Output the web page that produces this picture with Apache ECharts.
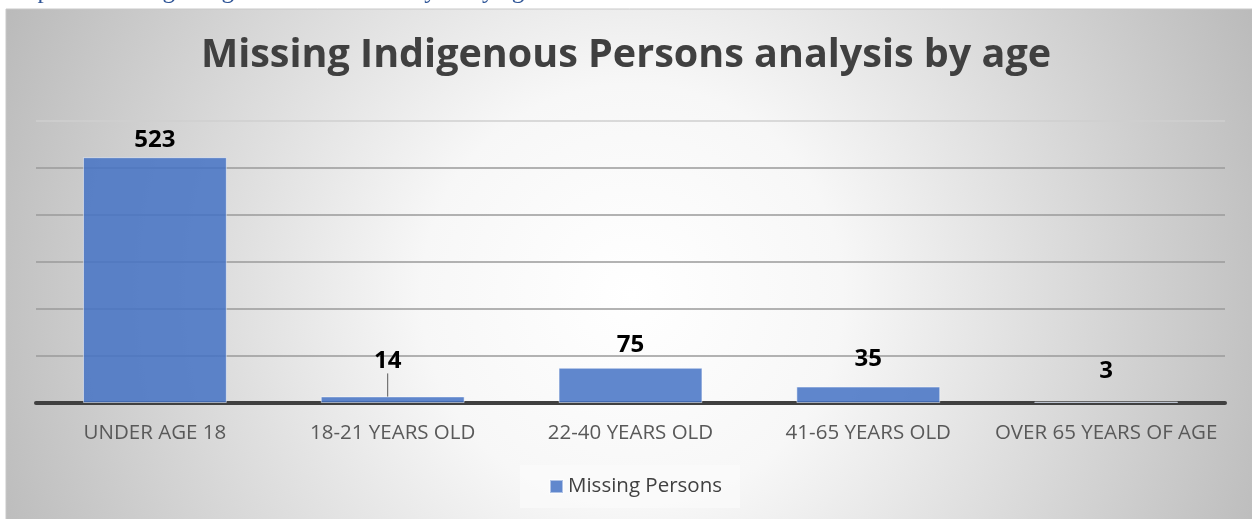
<!DOCTYPE html>
<html>
<head>
<meta charset="utf-8">
<script src="https://cdn.jsdelivr.net/npm/echarts@6/dist/echarts.min.js"></script>
<style>
html,body{margin:0;padding:0;background:#fff;}
#c{width:1252px;height:519px;}
</style>
</head>
<body>
<div id="c"></div>
<script>
const categories = ['UNDER AGE 18', '18-21 YEARS OLD', '22-40 YEARS OLD', '41-65 YEARS OLD', 'OVER 65 YEARS OF AGE'];
const missingPersons = [523, 14, 75, 35, 3];
const seriesName = 'Missing Persons';
const chartTitle = 'Missing Indigenous Persons analysis by age';
const captionText = 'Graph 1: Missing Indigenous Persons analysis by age';
const yMax = 600;
const yInterval = 100;

// label layout tweaks (Excel manual label positions)
const labelShift = [[0, 0], [-5, -18], [0, -6], [0, -10], [0, -13]];

const chart = echarts.init(document.getElementById('c'), null, {renderer: 'canvas'});
const FONT = '"Open Sans", sans-serif';

chart.setOption({
  backgroundColor: '#ffffff',
  animation: false,
  graphic: [
    {
      type: 'rect', z: -10, silent: true,
      shape: {x: 6, y: 9, width: 1252, height: 520},
      style: {
        fill: {
          type: 'radial', x: 0.5, y: 0.55, r: 1.35,
          colorStops: [
            {offset: 0, color: '#ffffff'},
            {offset: 0.3, color: '#f7f7f7'},
            {offset: 1, color: '#b8b8b8'}
          ]
        },
        stroke: '#c8c8c8', lineWidth: 1
      }
    },
    {
      type: 'text', z: -5, silent: true,
      style: {x: 0, y: 4, verticalAlign: 'bottom', text: captionText, font: '25px "Liberation Serif", serif', fill: '#2f5597'}
    }
  ],
  title: {
    text: chartTitle,
    left: 'center', top: 31,
    textStyle: {fontFamily: FONT, fontWeight: 'bold', fontSize: 39.5, color: '#404040'}
  },
  legend: {
    data: [seriesName],
    top: 465, left: 520,
    backgroundColor: 'rgba(250,250,250,0.9)',
    padding: [11, 18, 11, 29],
    icon: 'rect', itemWidth: 13, itemHeight: 13, itemGap: 6,
    textStyle: {fontFamily: FONT, fontSize: 20.5, color: '#404040'}
  },
  grid: {left: 36, right: 27, top: 121, bottom: 116, containLabel: false},
  xAxis: {
    type: 'category',
    data: categories,
    axisLine: {show: true, lineStyle: {color: '#404040', width: 4}},
    axisTick: {show: false},
    axisLabel: {interval: 0, fontFamily: FONT, fontSize: 20.5, color: '#595959', margin: 20}
  },
  yAxis: {
    type: 'value',
    min: 0, max: yMax, interval: yInterval,
    axisLine: {show: false},
    axisTick: {show: false},
    axisLabel: {show: false},
    splitLine: {lineStyle: {color: ['#9a9a9a','#9a9a9a','#9a9a9a','#9a9a9a','#9a9a9a','#9a9a9a','#cfcfcf'], width: 1.5}}
  },
  series: [{
    name: seriesName,
    type: 'bar',
    barWidth: '60.5%',
    data: missingPersons.map((v, i) => i === 1 ? {value: v, labelLine: {show: true}} : v),
    itemStyle: {color: 'rgba(68,114,196,0.85)', borderColor: 'rgba(255,255,255,0.5)', borderWidth: 1},
    label: {
      show: true, position: 'top', distance: 5,
      fontFamily: FONT, fontWeight: 'bold', fontSize: 24, color: '#000000'
    },
    labelLine: {show: false, lineStyle: {color: '#595959', width: 1}},
    labelLayout: function (p) {
      const s = labelShift[p.dataIndex] || [0, 0];
      return {dx: s[0], dy: s[1]};
    }
  }]
});
</script>
</body>
</html>
